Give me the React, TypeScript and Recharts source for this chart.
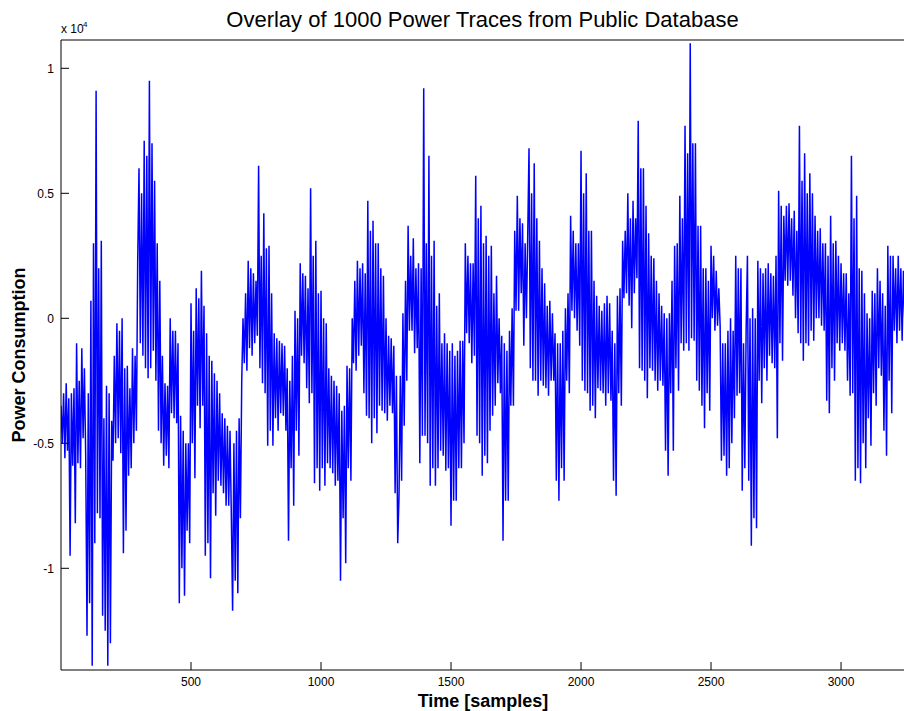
import { LineChart, Line, XAxis, YAxis } from 'recharts';

// the trace is read in pairs of 20 samples: an outer swing (spikes) and the
// inner band between them, one value every 5 samples once interleaved
const STEP = 5;

// outer swings, two per 20 samples
const spikes0 = [
  -3500, -5600, -2600, -9500, -3000, -8200, -1000, -6000, -1200, -5500,
  -12700, 700, -13900, 9100, -7800, 3100, -11900, -2700, -13900, -4100,
  -5700, -200, -4800, 0, -9400, -1900, -6300, -1200, -5000, 2300,
  6000, -1500, 7100, -2400, 9500, -1300, 5500, -4500, 1500, -5900,
  -2600, -6000, 0, -4000, -500, -11400, -3900, -11100, -5000, -9000,
  600, -6400, 1200, -4400, 1900, -9500, -600, -10400, -1700, -7900,
  -2500, -6700, -3800, -7500, -4300, -7800, -11700, -4500, -11000, -2600,
  0, -2100, 2300, -1500, 1800, -700, 6100, -2600, 4200, -5100,
  2900, -5100, -600, -4500, -900, -3900, -1100, -8900, -2500, -7500,
  300, -5500, 2200, -1800, 1700, -3400, 5200, -6600, 3100, -6900,
];

const spikes1 = [
  1100, -6700, -200, -6000, -2300, -6700, -2700, -10500, -3700, -9800,
  -1900, -6500, 0, -2100, 2300, -1100, 2200, -3900, 4700, -5000,
  3900, -4600, 3000, -3700, 1700, -4100, -700, -3800, -1100, -9000,
  -7100, 200, -4300, 3700, -500, 3200, -1400, 2200, -5800, 9200,
  -4700, 6500, -6700, 3100, -6700, 1000, -5300, -600, -6100, -1300,
  -8300, -1500, -7300, -900, -6000, 3000, -600, 2200, -1800, 5700,
  -4700, 4500, -6300, 3300, -5800, 2900, -3900, 1700, -2600, -700,
  -8900, -1300, -7300, 400, -3500, 4900, 300, 3800, -1100, 3300,
  6800, -2500, 6200, -3100, 3100, -2700, 1400, -3100, 700, -2500,
  -600, -7300, -1000, -6500, 400, -3000, 4100, 0, 3000, -1100,
];

const spikes2 = [
  6700, -2900, 5800, -3700, 3500, -4000, 900, -2900, 300, -3500,
  900, -3300, -500, -7100, 900, -3500, 3100, 1000, 5000, -400,
  4700, 1600, 7900, -2100, 6000, -3200, 3400, -2100, 2400, -2900,
  1000, -2700, 200, -6300, 200, -5300, 2900, -2900, 4900, -1300,
  7700, -1300, 11000, -900, 7000, -2900, 3700, -4400, 2000, -3700,
  2900, -500, 1900, -300, -5700, -1000, -6300, 0, -5000, 2500,
  -3100, 2000, -6900, -500, 2500, -9100, 400, -8400, 2300, -3400,
  1800, -2500, 2200, -1800, 1700, -4800, 5100, -1700, 4100, 1300,
  4600, 900, 4300, -600, 7700, -1700, 6600, -1100, 5800, -900,
  4100, 0, 3600, -500, 3000, -3800, 4100, -2500, 3100, -1300,
];

const spikes3 = [
  2200, -1300, 1800, -3100, 6500, -6500, 4900, -6600, 1900, -6000,
  200, -5100, 1100, -3500, 2000, -2300, 1000, -5500, 2900, -3800,
  2500, -1000, 2500, -900, 1900, -700,
];

// inner band, two per 20 samples, sitting between each pair of swings
const band0 = [
  -5000, -3000, -5300, -3200, -5900, -2800, -5800, -2500, -4800, -2000,
  -3000, -11400, 3000, -9000, 2000, -8000, -4000, -12500, -3000, -13000,
  -1500, -5000, -500, -5400, -2000, -8500, -2800, -6000, -1500, -4500,
  -1000, 5000, -2000, 6500, -2000, 7000, -2500, 3000, -5000, -1500,
  -5500, -2700, -3800, -500, -4200, -1000, -10000, -4500, -8500, -5000,
  -5000, -500, -3500, 800, -3500, 500, -9000, -1500, -7000, -2200,
  -6500, -3000, -7000, -4000, -7500, -4500, -5000, -10500, -4000, -8000,
  -1800, 1000, -1200, 2000, -1000, 1500, -2000, 2500, -3000, 2800,
  -4500, 1000, -4000, -800, -3800, -1000, -4500, -2000, -6000, -1500,
  -4500, 0, -1500, 1800, -2800, 1200, -3000, 2500, -6000, 1000,
];

const band1 = [
  -6000, 0, -5800, -2000, -6200, -2500, -6500, -3000, -8000, -3500,
  -6000, -2000, -1800, 1500, -1500, 2000, -3000, 1800, -4000, 3500,
  -4000, 3000, -3500, 2000, -3800, 0, -3500, -800, -7000, -2300,
  -2300, -6500, 1500, -2500, 2500, -500, 2000, -1200, 2000, -4700,
  3000, -5000, 2500, -6000, 500, -6000, -1000, -5500, -1000, -6000,
  -1000, -7300, -1300, -6000, -900, -5000, 2500, -1000, 2200, -1500,
  4000, -5000, 3000, -5500, 2500, -4500, 1000, -3500, 0, -3000,
  -1000, -7300, -500, -3500, 3500, 300, 4000, 1000, 3000, 0,
  -2000, 5000, -2500, 4000, -2500, 2000, -2800, 500, -2500, 200,
  -6500, -1000, -6000, -500, -2500, 1000, 300, 3500, -500, 3000,
];

const band2 = [
  -2500, 5000, -3000, 3500, -3500, 1500, -2800, 500, -3000, 600,
  -3000, 600, -6500, -1000, -3000, 1200, 800, 3500, 500, 4000,
  1000, 4000, -2000, 6000, -2500, 4500, -2000, 2500, -2500, 1500,
  -2500, 500, -5300, 0, -3000, 1500, -2000, 3000, -1000, 4000,
  -1000, 6600, -800, 7000, -2500, 3700, -3500, 2000, -3000, 1500,
  0, 2500, -300, 1200, -1000, -5500, -500, -6000, -500, -4000,
  2000, -3000, -1000, -6000, -6500, 0, -8000, 0, -2500, 2000,
  -2000, 2000, -1500, 1800, -2000, 2500, -1000, 4500, 1500, 4500,
  1500, 4000, 0, 3500, -1000, 5500, -1000, 5000, -500, 5000,
  0, 3500, -300, 3000, -3300, 2500, -2000, 3000, -1000, 2500,
];

const band3 = [
  -1000, 1800, -2500, 1000, -3000, 4000, -6000, 2000, -5000, 1000,
  -4000, 0, -3000, 1000, -2000, 1500, -4500, 500, -2500, 2500,
  -500, 2000, -500, 2000, 0, 1800,
];

const xTicks = [500, 1000, 1500, 2000, 2500, 3000];
const yTicks = [-10000, -5000, 0, 5000, 10000];
const yTickLabels: Record<number, string> = {
  [-10000]: '-1',
  [-5000]: '-0.5',
  0: '0',
  5000: '0.5',
  10000: '1',
};

const spikes = [...spikes0, ...spikes1, ...spikes2, ...spikes3];
const band = [...band0, ...band1, ...band2, ...band3];

const values: number[] = [];
for (let k = 0; k < spikes.length; k += 2) {
  values.push(spikes[k], band[k], band[k + 1], spikes[k + 1]);
}
const data = values.map((v, i) => ({ t: i * STEP, v }));

const FONT = '"Liberation Sans", Arial, sans-serif';
const X_DOMAIN = [0, 3246];
const Y_DOMAIN = [-14068, 11132];

export default function App() {
  const tickStyle = { fill: '#000', fontSize: 12, fontFamily: FONT };
  return (
    <div style={{ position: 'absolute', left: 0, top: 0, width: 904, height: 711, overflow: 'hidden', background: '#fff' }}>
      <LineChart width={906} height={711} data={data} margin={{ top: 39, right: 0, bottom: 0, left: 0 }}>
        <XAxis
          dataKey="t"
          type="number"
          domain={X_DOMAIN}
          ticks={xTicks}
          allowDataOverflow
          height={41}
          tick={tickStyle}
          tickSize={-8}
          tickMargin={15}
          axisLine={{ stroke: '#000' }}
          tickLine={{ stroke: '#000' }}
        />
        <XAxis
          xAxisId="top"
          orientation="top"
          type="number"
          domain={X_DOMAIN}
          ticks={xTicks}
          allowDataOverflow
          height={1}
          tick={false}
          tickSize={-8}
          axisLine={{ stroke: '#000' }}
          tickLine={{ stroke: '#000' }}
        />
        <YAxis
          type="number"
          domain={Y_DOMAIN}
          ticks={yTicks}
          allowDataOverflow
          width={61}
          tick={tickStyle}
          tickFormatter={(v: number) => yTickLabels[v] ?? String(v)}
          tickSize={-8}
          tickMargin={15}
          axisLine={{ stroke: '#000' }}
          tickLine={{ stroke: '#000' }}
        />
        <YAxis
          yAxisId="right"
          orientation="right"
          type="number"
          domain={Y_DOMAIN}
          ticks={yTicks}
          allowDataOverflow
          width={1}
          tick={false}
          tickSize={-8}
          axisLine={{ stroke: '#000' }}
          tickLine={{ stroke: '#000' }}
        />
        <Line
          type="linear"
          dataKey="v"
          stroke="#0000ff"
          strokeWidth={1.5}
          dot={false}
          isAnimationActive={false}
        />
      </LineChart>
      <svg width={904} height={711} style={{ position: 'absolute', left: 0, top: 0, pointerEvents: 'none' }}>
        <text x={482.5} y={27} textAnchor="middle" fontSize={22} fontFamily={FONT} fill="#000">
          Overlay of 1000 Power Traces from Public Database
        </text>
        <text x={61} y={33} fontSize={12} fontFamily={FONT} fill="#000">x 10</text>
        <text x={83} y={27} fontSize={8} fontFamily={FONT} fill="#000">4</text>
        <text x={483} y={707} textAnchor="middle" fontSize={18} fontWeight="bold" fontFamily={FONT} fill="#000">
          Time [samples]
        </text>
        <text
          x={25}
          y={355}
          textAnchor="middle"
          fontSize={18}
          fontWeight="bold"
          fontFamily={FONT}
          fill="#000"
          transform="rotate(-90, 25, 355)"
        >
          Power Consumption
        </text>
      </svg>
    </div>
  );
}
